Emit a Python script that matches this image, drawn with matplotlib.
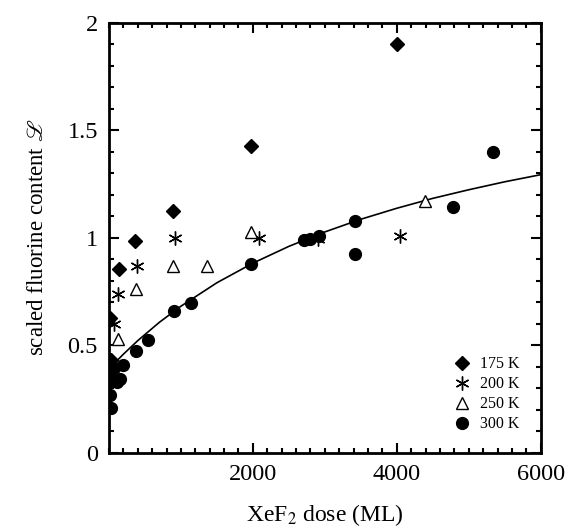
import numpy as np
import matplotlib.pyplot as plt
from matplotlib.ticker import MultipleLocator

plt.rcParams['font.family'] = ['Liberation Serif', 'DejaVu Serif']
plt.rcParams['mathtext.fontset'] = 'stix'

# ========== DATA ==========
x175 = [20, 25, 143, 362, 895, 1967, 4009]
y175 = [0.628, 0.433, 0.854, 0.983, 1.126, 1.424, 1.900]

x200 = [10, 70, 130, 386, 919, 2079, 2910, 4042]
y200 = [0.372, 0.600, 0.738, 0.871, 1.001, 0.998, 0.995, 1.006]

x250 = [130, 372, 895, 1360, 1972, 4389]
y250 = [0.529, 0.761, 0.871, 0.871, 1.029, 1.172]

x300 = [28, 20, 45, 70, 110, 150, 200, 376, 547, 905, 1141, 1972,
        2705, 2798, 2914, 3415, 3415, 4784, 5336]
y300 = [0.211, 0.270, 0.340, 0.395, 0.330, 0.345, 0.410, 0.474, 0.526, 0.662, 0.696, 0.877,
        0.990, 0.994, 1.009, 1.079, 0.926, 1.143, 1.397]

# fitted curve, points
xfit = [0, 50, 200, 400, 700, 1000, 1500, 2000, 2500, 3000, 3500, 4000, 4500, 5000, 5500, 6000]
yfit = [0.390, 0.408, 0.459, 0.522, 0.607, 0.682, 0.791, 0.882, 0.960, 1.027, 1.086,
        1.137, 1.183, 1.223, 1.260, 1.293]

# ========== PLOT ==========
fig = plt.figure(figsize=(5.67, 5.31), dpi=100)
ax = fig.add_axes([0.1922, 0.1469, 0.7614, 0.8107])

ax.plot(xfit, yfit, color='black', lw=1.2, zorder=2)
ax.plot(x175, y175, 'D', color='black', ms=7, ls='none', label='175 K', zorder=3)
ax.plot(x200, y200, marker=(6, 2, 0), color='black', ms=10, mew=1.0, ls='none',
        label='200 K', zorder=3)
ax.plot(x250, y250, '^', mfc='white', mec='black', ms=8.5, mew=1.0, ls='none',
        label='250 K', zorder=3)
ax.plot(x300, y300, 'o', color='black', ms=8.5, ls='none', label='300 K', zorder=4)

ax.set_xlim(0, 6000)
ax.set_ylim(0, 2)
ax.set_xticks([2000, 4000, 6000])
ax.set_yticks([0, 0.5, 1, 1.5, 2])
ax.set_yticklabels(['0', '0.5', '1', '1.5', '2'])
ax.xaxis.set_minor_locator(MultipleLocator(200))
ax.yaxis.set_minor_locator(MultipleLocator(0.1))
ax.tick_params(which='both', direction='in', top=True, right=True, width=1.5)
ax.tick_params(which='major', length=7, labelsize=17.5, pad=8)
ax.tick_params(which='minor', length=3.5)
for s in ax.spines.values():
    s.set_linewidth(2)

ax.set_xlabel('XeF$_2$ dose (ML)', fontsize=17, labelpad=12)
ax.set_ylabel(r'scaled fluorine content $\mathscr{L}$', fontsize=16.5, labelpad=14)

ax.legend(loc='lower right', frameon=False, fontsize=11.5, handletextpad=0.4,
          labelspacing=0.25, borderaxespad=0.9, handlelength=1.5)

fig.savefig('out.png', dpi=100)
